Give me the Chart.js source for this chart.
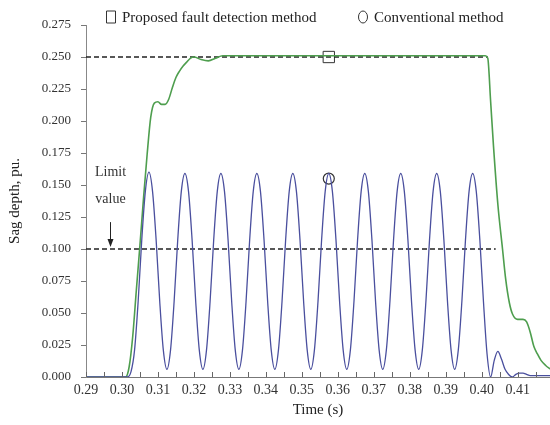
<!DOCTYPE html>
<html>
<head>
<meta charset="utf-8">
<script src="https://cdn.jsdelivr.net/npm/chart.js@4.4.0/dist/chart.umd.min.js"></script>
<style>
  html, body { margin: 0; padding: 0; background: #fff; }
</style>
</head>
<body>
<canvas id="chart" width="550" height="425"></canvas>
<script>
// conventional method (blue), sampled every 1 ms
const convTime = [
  0.2900, 0.3015, 0.3025, 0.3035, 0.3045, 0.3055, 0.3065, 0.3075,
  0.3085, 0.3095, 0.3105, 0.3115, 0.3125, 0.3135, 0.3145, 0.3155, 0.3165, 0.3175,
  0.3185, 0.3195, 0.3205, 0.3215, 0.3225, 0.3235, 0.3245, 0.3255, 0.3265, 0.3275,
  0.3285, 0.3295, 0.3305, 0.3315, 0.3325, 0.3335, 0.3345, 0.3355, 0.3365, 0.3375,
  0.3385, 0.3395, 0.3405, 0.3415, 0.3425, 0.3435, 0.3445, 0.3455, 0.3465, 0.3475,
  0.3485, 0.3495, 0.3505, 0.3515, 0.3525, 0.3535, 0.3545, 0.3555, 0.3565, 0.3575,
  0.3585, 0.3595, 0.3605, 0.3615, 0.3625, 0.3635, 0.3645, 0.3655, 0.3665, 0.3675,
  0.3685, 0.3695, 0.3705, 0.3715, 0.3725, 0.3735, 0.3745, 0.3755, 0.3765, 0.3775,
  0.3785, 0.3795, 0.3805, 0.3815, 0.3825, 0.3835, 0.3845, 0.3855, 0.3865, 0.3875,
  0.3885, 0.3895, 0.3905, 0.3915, 0.3925, 0.3935, 0.3945, 0.3955, 0.3965, 0.3975,
  0.3985, 0.3995, 0.4005, 0.4015, 0.4025, 0.4035, 0.4045, 0.4055, 0.4065, 0.4075,
  0.4085, 0.4095, 0.4105, 0.4115, 0.4125, 0.4135, 0.4145, 0.4155, 0.4165, 0.4175,
  0.4185, 0.4195
];
const convSag = [
  0, 0, 0.004, 0.021, 0.059, 0.107, 0.145, 0.160,
  0.145, 0.107, 0.059, 0.021, 0.006, 0.021, 0.059, 0.107, 0.145, 0.159,
  0.145, 0.107, 0.059, 0.021, 0.006, 0.021, 0.059, 0.107, 0.145, 0.159,
  0.145, 0.107, 0.059, 0.021, 0.006, 0.021, 0.059, 0.107, 0.145, 0.159,
  0.145, 0.107, 0.059, 0.021, 0.006, 0.021, 0.059, 0.107, 0.145, 0.159,
  0.145, 0.107, 0.059, 0.021, 0.006, 0.021, 0.059, 0.107, 0.145, 0.159,
  0.145, 0.107, 0.059, 0.021, 0.006, 0.021, 0.059, 0.107, 0.145, 0.159,
  0.145, 0.107, 0.059, 0.021, 0.006, 0.021, 0.059, 0.107, 0.145, 0.159,
  0.145, 0.107, 0.059, 0.021, 0.006, 0.021, 0.059, 0.107, 0.145, 0.159,
  0.145, 0.107, 0.059, 0.021, 0.006, 0.021, 0.059, 0.107, 0.145, 0.159,
  0.145, 0.107, 0.059, 0.018, 0.000, 0.013, 0.020, 0.014, 0.006, 0.002,
  0.000, 0.002, 0.003, 0.003, 0.002, 0.001, 0.001, 0.001, 0.001, 0.001,
  0.001, 0.001
];

// proposed fault detection method (green)
const propTime = [
  0.2900, 0.3010, 0.3020, 0.3030, 0.3040, 0.3050, 0.3060, 0.3070, 0.3080, 0.3090,
  0.3100, 0.3110, 0.3120, 0.3130, 0.3140, 0.3150, 0.3160, 0.3170, 0.3180, 0.3190,
  0.3200, 0.3220, 0.3240, 0.3260, 0.3280, 0.3400, 0.3600, 0.3800, 0.4010, 0.4017,
  0.4025, 0.4033, 0.4045, 0.4058, 0.4067, 0.4077, 0.4086, 0.4100, 0.4115, 0.4125,
  0.4135, 0.4145, 0.4155, 0.4165, 0.4178, 0.4192
];
const propSag = [
  0, 0, 0.008, 0.032, 0.068, 0.103, 0.140, 0.174, 0.203, 0.214,
  0.215, 0.213, 0.213, 0.217, 0.226, 0.234, 0.239, 0.243, 0.246, 0.249,
  0.250, 0.248, 0.247, 0.249, 0.251, 0.251, 0.251, 0.251, 0.251, 0.249,
  0.215, 0.180, 0.135, 0.100, 0.076, 0.058, 0.049, 0.045, 0.045, 0.043,
  0.035, 0.024, 0.018, 0.013, 0.009, 0.006
];

// reference levels
const steadyLevel = 0.250;
const steadyEnd = 0.4017;
const limitLevel = 0.100;
const limitEnd = 0.4039;

// marked points
const markTime = 0.3575;
const propMark = 0.250;
const convMark = 0.155;

const yTicks = [0, 0.025, 0.05, 0.075, 0.1, 0.125, 0.15, 0.175, 0.2, 0.225, 0.25, 0.275];

const serif = '"Liberation Serif", "DejaVu Serif", serif';
const green = '#4e9e4e';
const blue = '#4a4f9e';

const pts = (xs, ys) => xs.map((t, i) => ({ x: t, y: ys[i] }));

const innerTicks = {
  id: 'innerTicks',
  afterDraw(chart) {
    const xs = chart.scales.x;
    const ctx = chart.ctx;
    const b = chart.chartArea.bottom;
    ctx.save();
    ctx.strokeStyle = '#666';
    ctx.lineWidth = 1;
    xs.ticks.forEach(t => {
      const px = Math.round(xs.getPixelForValue(t.value)) + 0.5;
      ctx.beginPath();
      ctx.moveTo(px, b);
      ctx.lineTo(px, b - 5);
      ctx.stroke();
    });
    ctx.restore();
  }
};

const limitNote = {
  id: 'limitNote',
  afterDatasetsDraw(chart) {
    const { ctx, scales: { x, y } } = chart;
    const px = Math.round(x.getPixelForValue(0.2967)) + 0.5;
    ctx.save();
    ctx.font = '14px ' + serif;
    ctx.fillStyle = '#333';
    ctx.textAlign = 'center';
    ctx.textBaseline = 'middle';
    ctx.fillText('Limit', px, y.getPixelForValue(0.160));
    ctx.fillText('value', px, y.getPixelForValue(0.139));
    const y0 = y.getPixelForValue(0.121);
    const y1 = y.getPixelForValue(0.1015);
    ctx.strokeStyle = '#222';
    ctx.lineWidth = 1;
    ctx.beginPath();
    ctx.moveTo(px, y0);
    ctx.lineTo(px, y1 - 6);
    ctx.stroke();
    ctx.fillStyle = '#222';
    ctx.beginPath();
    ctx.moveTo(px, y1);
    ctx.lineTo(px - 3, y1 - 8);
    ctx.lineTo(px + 3, y1 - 8);
    ctx.closePath();
    ctx.fill();
    ctx.restore();
  }
};

// legend drawn by hand so the two keys sit where the figure has them
const topKey = {
  id: 'topKey',
  afterDraw(chart) {
    const ctx = chart.ctx;
    const items = chart.data.datasets.filter(d => d.key);
    const spots = [111, 363];
    ctx.save();
    ctx.font = '15px ' + serif;
    ctx.fillStyle = '#222';
    ctx.strokeStyle = '#333';
    ctx.lineWidth = 1;
    ctx.textBaseline = 'middle';
    const cy = 17;
    items.forEach((d, i) => {
      const cx = spots[i];
      ctx.beginPath();
      if (d.pointStyle === 'rect') ctx.rect(cx - 4.5, cy - 6, 9, 12);
      else ctx.ellipse(cx, cy, 4.5, 6, 0, 0, Math.PI * 2);
      ctx.stroke();
      ctx.fillText(d.label, cx + 11, cy + 1);
    });
    ctx.restore();
  }
};

new Chart(document.getElementById('chart'), {
  type: 'line',
  data: {
    datasets: [
      {
        label: 'conventional',
        data: pts(convTime, convSag),
        borderColor: blue,
        borderWidth: 1.3,
        pointRadius: 0,
        cubicInterpolationMode: 'monotone'
      },
      {
        label: 'proposed',
        data: pts(propTime, propSag),
        borderColor: green,
        borderWidth: 1.6,
        pointRadius: 0,
        cubicInterpolationMode: 'monotone'
      },
      {
        label: 'steady',
        data: [{ x: 0.29, y: steadyLevel }, { x: steadyEnd, y: steadyLevel }],
        borderColor: '#222',
        borderWidth: 1.4,
        borderDash: [5, 3],
        pointRadius: 0
      },
      {
        label: 'limit',
        data: [{ x: 0.29, y: limitLevel }, { x: limitEnd, y: limitLevel }],
        borderColor: '#222',
        borderWidth: 1.4,
        borderDash: [5, 3],
        pointRadius: 0
      },
      {
        key: true,
        label: 'Proposed fault detection method',
        data: [{ x: markTime, y: propMark }],
        showLine: false,
        pointStyle: 'rect',
        pointRadius: 8,
        pointBorderColor: '#333',
        pointBackgroundColor: 'rgba(0,0,0,0)',
        pointBorderWidth: 1
      },
      {
        key: true,
        label: 'Conventional method',
        data: [{ x: markTime, y: convMark }],
        showLine: false,
        pointStyle: 'circle',
        pointRadius: 5.5,
        pointBorderColor: '#333',
        pointBackgroundColor: 'rgba(0,0,0,0)',
        pointBorderWidth: 1.2
      }
    ]
  },
  options: {
    responsive: false,
    animation: false,
    layout: { autoPadding: false, padding: { top: 25, right: 0, left: 0, bottom: 0 } },
    plugins: { legend: { display: false }, tooltip: { enabled: false } },
    scales: {
      x: {
        type: 'linear',
        min: 0.29,
        max: 0.419,
        afterFit(s) { s.height = 48; },
        border: { display: true, color: '#777', width: 1 },
        grid: { display: false, drawTicks: false },
        ticks: {
          stepSize: 0.005,
          includeBounds: false,
          autoSkip: false,
          maxRotation: 0,
          padding: 5,
          color: '#333',
          font: { family: serif, size: 14 },
          callback: v => (Math.round(v * 1000) % 10 === 0 ? v.toFixed(2) : '')
        },
        title: {
          display: true,
          text: 'Time (s)',
          color: '#222',
          font: { family: serif, size: 15 },
          padding: { top: 4, bottom: 6 }
        }
      },
      y: {
        min: 0,
        max: 0.275,
        afterFit(s) { s.width = 86; },
        afterBuildTicks(s) { s.ticks = yTicks.map(v => ({ value: v })); },
        border: { display: true, color: '#888', width: 1 },
        grid: { display: true, drawOnChartArea: false, drawTicks: true, tickLength: 5, color: '#777' },
        ticks: {
          padding: 10,
          color: '#333',
          font: { family: serif, size: 13 },
          callback: v => v.toFixed(3)
        },
        title: {
          display: true,
          text: 'Sag depth, pu.',
          color: '#222',
          font: { family: serif, size: 15 },
          padding: { top: 6, bottom: 4 }
        }
      }
    }
  },
  plugins: [innerTicks, limitNote, topKey]
});
</script>
</body>
</html>
